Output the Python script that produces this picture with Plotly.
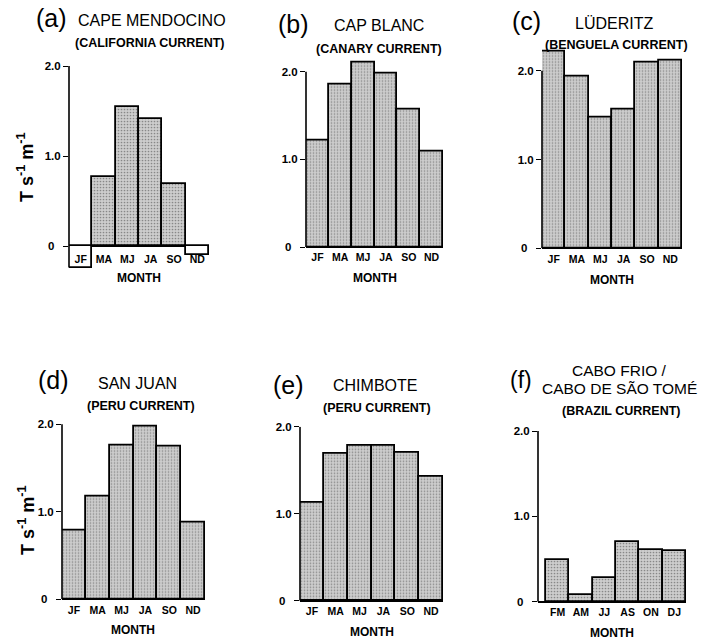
import plotly.graph_objects as go

# ---------------- data ----------------
months_std = ["JF", "MA", "MJ", "JA", "SO", "ND"]
months_south = ["FM", "AM", "JJ", "AS", "ON", "DJ"]

cape_mendocino = [-0.24, 0.77, 1.54, 1.41, 0.69, -0.10]
cap_blanc = [1.22, 1.85, 2.11, 1.98, 1.57, 1.09]
luderitz = [2.22, 1.94, 1.47, 1.56, 2.09, 2.11]
san_juan = [0.79, 1.17, 1.76, 1.98, 1.75, 0.88]
chimbote = [1.13, 1.69, 1.78, 1.78, 1.70, 1.43]
cabo_frio = [0.49, 0.08, 0.28, 0.70, 0.60, 0.59]

y_ticks = [0, 1, 2]
y_ticktext = ["0\u00a0\u00a0", "1.0", "2.0"]

W, H = 701, 639
FONT = "Liberation Sans, Arial, Helvetica, sans-serif"
GRAY = "#cdcdcd"

def dx(x0, x1):
    return [x0 / W, x1 / W]

def dy(ytop, ybot):
    return [1 - ybot / H, 1 - ytop / H]

# panel layout: (tag, values, categories, x-pixels, y-top px, y-bottom px, y-range, x-range, label standoff)
panels = [
    ("a", cape_mendocino, months_std, (69, 209), 66, 268.5, [-0.25, 2.0], [-0.5, 5.5], 0),
    ("b", cap_blanc, months_std, (306, 443), 58.5, 247, [0, 2.15], [-0.5, 5.5], 2),
    ("c", luderitz, months_std, (542, 682), 48.5, 248.3, [0, 2.25], [-0.5, 5.5], 3),
    ("d", san_juan, months_std, (62, 205), 422.5, 599.3, [0, 2.02], [-0.5, 5.5], 3),
    ("e", chimbote, months_std, (300, 443), 426.7, 600.7, [0, 2.0], [-0.5, 5.5], 3),
    ("f", cabo_frio, months_south, (538, 686), 431, 601.7, [0, 2.0], [-0.84, 5.5], 3),
]

fig = go.Figure()
layout = {}
shapes_list = []
for i, (tag, vals, cats, (x0, x1), yt, yb, yr, xr, so) in enumerate(panels):
    n = "" if i == 0 else str(i + 1)
    colors = ["white" if v < 0 else GRAY for v in vals]
    shapes = ["" if v < 0 else "." for v in vals]
    fig.add_trace(go.Bar(
        x=cats, y=vals, xaxis="x" + n, yaxis="y" + n,
        marker=dict(color=colors, line=dict(color="black", width=1.8),
                    pattern=dict(shape=shapes, fgcolor="#8c8c8c", bgcolor=colors,
                                 size=3, solidity=0.25)),
        showlegend=False, hoverinfo="x+y",
    ))
    xa = dict(
        domain=dx(x0, x1), anchor="y" + n, range=xr, type="category",
        showline=False, showgrid=False, ticks="", zeroline=False,
        automargin=False,
        ticklabelposition="inside" if tag == "a" else "outside",
        tickfont=dict(family=FONT, size=10.5, color="black", weight="bold"),
        fixedrange=True,
    )
    if so:
        xa["ticklabelstandoff"] = so
    layout["xaxis" + n] = xa
    layout["yaxis" + n] = dict(
        domain=dy(yt, yb), anchor="x" + n, range=yr,
        showline=False,
        ticks="outside", ticklen=5, tickwidth=1.2, tickcolor="black",
        tickvals=y_ticks, ticktext=y_ticktext, showgrid=False,
        zeroline=True, zerolinecolor="black", zerolinewidth=2.2,
        automargin=False,
        tickfont=dict(family=FONT, size=11.5, color="black", weight="bold"),
        fixedrange=True,
    )
    # vertical axis line drawn up to the 2.0 tick, as in the original
    shapes_list.append(dict(
        type="line", xref=("x" + n) + " domain", yref="y" + n,
        x0=0, x1=0, y0=min(0, vals[0]), y1=y_ticks[-1],
        line=dict(color="black", width=1.6), layer="above",
    ))

def px(x, y):
    return x / W, 1 - y / H

annotations = []

def add_text(x, y, text, size, weight="normal", angle=0, xanchor="center"):
    xp, yp = px(x, y)
    annotations.append(dict(
        x=xp, y=yp, xref="paper", yref="paper", text=text, showarrow=False,
        xanchor=xanchor, yanchor="middle", textangle=angle,
        font=dict(family=FONT, size=size, color="black", weight=weight),
    ))

# panel letters
add_text(51, 18, "(a)", 25)
add_text(293, 24, "(b)", 25)
add_text(526, 21, "(c)", 25)
add_text(54, 380, "(d)", 25)
add_text(288, 385, "(e)", 25)
add_text(521, 380, "(f)", 23)

# station names
add_text(152, 20, "CAPE MENDOCINO", 16)
add_text(379, 25, "CAP BLANC", 16)
add_text(614, 24, "LÜDERITZ", 16)
add_text(137, 383, "SAN JUAN", 16)
add_text(375, 385, "CHIMBOTE", 16)
add_text(619, 370, "CABO FRIO /", 15.5)
add_text(619, 388, "CABO DE SÃO TOMÉ", 15.5)

# current names
add_text(150, 43, "(CALIFORNIA CURRENT)", 12.5, "bold")
add_text(379, 49, "(CANARY CURRENT)", 12.5, "bold")
add_text(616, 45, "(BENGUELA CURRENT)", 12.5, "bold")
add_text(141, 406, "(PERU CURRENT)", 12.5, "bold")
add_text(377, 408, "(PERU CURRENT)", 12.5, "bold")
add_text(621, 411, "(BRAZIL CURRENT)", 12.5, "bold")

# x titles
add_text(139, 278, "MONTH", 12, "bold")
add_text(375, 278, "MONTH", 12, "bold")
add_text(612, 280, "MONTH", 12, "bold")
add_text(133, 630, "MONTH", 12, "bold")
add_text(372, 632, "MONTH", 12, "bold")
add_text(612, 633, "MONTH", 12, "bold")

# y titles
ytitle = "T s<sup>-1</sup> m<sup>-1</sup>"
add_text(25, 168, ytitle, 18, "bold", angle=-90)
add_text(26, 521, ytitle, 18, "bold", angle=-90)

fig.update_layout(
    width=W, height=H, margin=dict(l=0, r=0, t=0, b=0, autoexpand=False),
    paper_bgcolor="white", plot_bgcolor="white",
    bargap=0, annotations=annotations, shapes=shapes_list, **layout,
)

fig.write_html(
    "out.html",
    config={"displayModeBar": False},
    post_script="document.body.style.margin='0';document.body.style.overflow='hidden';",
)
